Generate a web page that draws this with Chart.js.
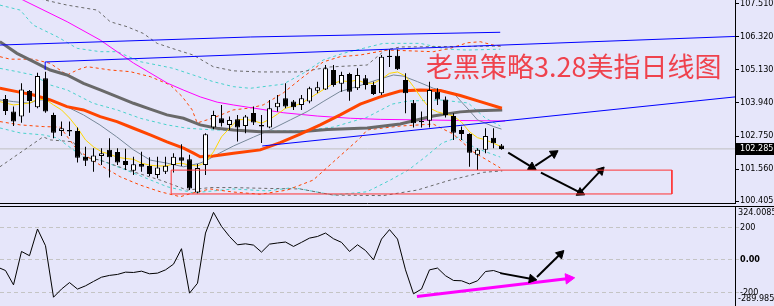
<!DOCTYPE html>
<html>
<head>
<meta charset="utf-8">
<script src="https://cdn.jsdelivr.net/npm/chart.js@4.4.1/dist/chart.umd.min.js"></script>
<style>
  html, body { margin: 0; padding: 0; background: #E6E6FA; overflow: hidden; }
  #wrap { position: relative; width: 774px; height: 306px; overflow: hidden; }
  #priceChart { position: absolute; left: 0; top: 0; }
  #cciChart { position: absolute; left: 0; top: 204px; }
</style>
</head>
<body>
<div id="wrap">
  <canvas id="priceChart" width="774" height="204"></canvas>
  <canvas id="cciChart" width="774" height="103"></canvas>
</div>
<script>
// ---- data ----
const open = [104.08,103.63,103.45,104.37,103.79,104.83,103.51,102.93,102.97,102.93,
  102.00,101.82,102.03,102.25,102.17,101.85,101.50,101.74,101.67,101.34,
  101.46,101.70,101.98,101.91,100.71,101.70,103.06,103.39,103.15,103.35,
  103.11,103.58,103.15,103.06,103.79,104.11,103.99,103.87,103.99,104.38,
  104.43,105.13,104.63,104.99,104.47,104.83,104.59,104.29,105.60,105.64,
  104.77,103.95,103.25,103.30,104.35,104.07,103.47,102.97,102.82,102.07,
  102.25,102.69,102.41];
const high = [104.23,103.81,104.65,104.41,105.03,105.07,103.59,103.27,103.27,103.06,
  102.36,102.31,102.31,102.67,102.31,102.29,102.00,102.18,101.98,102.00,
  102.00,102.13,102.45,102.07,101.74,102.85,103.66,103.87,103.45,103.51,
  103.51,103.81,103.51,104.05,104.23,104.65,104.05,104.23,104.53,104.71,
  105.31,105.31,105.07,105.03,105.19,104.95,104.71,105.67,105.87,105.87,
  105.01,104.05,103.63,104.71,104.47,104.17,103.57,103.09,102.85,102.31,
  103.03,103.03,102.46];
const low = [103.51,103.11,103.23,103.59,103.75,103.59,102.67,102.75,102.75,101.79,
  101.67,101.46,101.70,101.25,101.70,101.52,101.34,101.46,101.31,101.23,
  101.38,101.43,101.67,100.80,100.68,101.34,102.99,103.09,102.97,102.55,
  102.85,103.15,102.50,103.03,103.63,103.75,103.69,103.69,103.93,104.29,
  104.41,104.53,104.35,104.02,104.41,104.43,104.23,104.23,105.24,105.13,
  103.57,103.06,103.06,103.06,103.87,103.42,102.61,102.61,101.64,101.52,
  102.13,102.31,102.25];
const close = [103.65,103.27,104.43,104.01,104.91,103.63,102.87,103.03,102.91,101.97,
  101.86,102.05,102.13,101.98,101.79,101.70,101.73,101.64,101.38,101.61,
  101.68,102.00,101.86,100.86,101.60,102.81,103.51,103.21,103.33,103.06,
  103.45,103.24,103.09,103.75,103.95,103.81,103.79,104.11,104.47,104.51,
  105.19,104.59,104.95,104.35,104.95,104.59,104.26,105.61,105.64,105.16,
  104.29,103.21,103.29,104.41,104.07,103.51,102.87,102.82,102.15,102.25,
  102.75,102.49,102.285];

const priceTicks = [107.510, 106.320, 105.130, 103.940, 102.750, 101.560, 100.405];
const priceMin = 100.298, priceMax = 107.654;
const xMin = -0.6875, xMax = 91.1875;

// moving averages: [bar index, price]
const maYellow = [[-0.7,103.99],[0,103.94],[1,103.87],[2,103.90],[3,103.94],[4,104.07],[5,104.07],[6,103.87],[7,103.69],[8,103.40],
  [9,103.04],[10,102.61],[11,102.36],[12,102.18],[13,102.10],[14,101.98],[15,101.94],[16,101.91],[17,101.77],[18,101.70],
  [19,101.67],[20,101.67],[21,101.74],[22,101.77],[23,101.70],[24,101.67],[25,101.79],[26,102.18],[27,102.72],[28,103.03],
  [29,103.33],[30,103.35],[31,103.30],[32,103.21],[33,103.35],[34,103.54],[35,103.75],[36,103.83],[37,103.93],[38,104.11],
  [39,104.29],[40,104.47],[41,104.65],[42,104.74],[43,104.71],[44,104.77],[45,104.65],[46,104.65],[47,104.80],[48,105.01],
  [49,105.06],[50,104.91],[51,104.53],[52,104.11],[53,103.76],[54,103.62],[55,103.54],[56,103.47],[57,103.25],[58,102.90],
  [59,102.69],[60,102.61],[61,102.49],[62,102.36]];
const maSlate = [[-0.7,104.05],[1,103.99],[3,103.93],[4,104.05],[5.6,104.05],[7.7,103.80],[9.75,103.51],[11.8,103.15],
  [13.9,102.72],[16,102.25],[18.1,101.88],[20.2,101.77],[22.25,101.64],[24.3,101.77],[25.2,101.88],[26.8,102.14],
  [28.5,102.39],[31,102.71],[33.1,102.97],[35.6,103.33],[37.7,103.63],[39.7,103.99],[41.8,104.35],[43.9,104.53],
  [46.4,104.77],[48.5,104.95],[49.7,104.91],[51.5,104.71],[53.5,104.47],[56,104.29],[57.7,103.76],[59,103.33],
  [61,103.09],[62,103.00]];
const maOrange = [[-0.7,104.47],[1.43,104.35],[3.5,104.23],[5.59,104.05],[7.68,103.81],[9.75,103.69],[11.84,103.45],
  [13.93,103.27],[16,103.03],[18.09,102.79],[20.18,102.54],[22.25,102.31],[23.5,102.13],[24.34,102.00],[26,102.03],
  [28.5,102.13],[31.84,102.25],[34.34,102.51],[36.84,102.82],[39.34,103.15],[41.84,103.51],[44.34,103.90],
  [46.84,104.16],[49.34,104.37],[51.84,104.41],[54.34,104.39],[56.84,104.21],[59.34,103.99],[62.05,103.75]];
const maGray = [[-0.7,106.15],[1.43,105.73],[3.5,105.43],[5.59,105.13],[7.68,104.95],[9.75,104.65],[11.84,104.41],
  [13.93,104.17],[16,103.93],[18.09,103.72],[20.18,103.51],[22.25,103.39],[24.34,103.15],[26.43,103.03],[28.5,102.97],
  [31.84,102.90],[36.84,102.90],[40.21,102.98],[45.21,103.04],[49.34,103.18],[53.46,103.47],[56.84,103.62],
  [58.96,103.66],[62.09,103.69]];
const maMagenta = [[1.59,107.75],[2.21,107.65],[7.71,106.87],[11.84,106.21],[16,105.38],[20.21,104.66],[22.21,104.41],
  [24.34,104.16],[26.46,103.97],[28.46,103.87],[31.84,103.72],[34.71,103.59],[38.96,103.47],[43.09,103.39],
  [46.84,103.35],[51.84,103.33],[56.84,103.31],[62.46,103.29]];

// envelope / band lines (dashed)
const grayUp = [[4.34,107.69],[7.71,107.47],[11.46,107.29],[13.09,106.87],[15.21,106.69],[17.21,106.45],[18.96,106.09],
  [21.46,105.85],[23.46,105.67],[25.96,105.25],[28.46,105.10],[31.84,105.06],[36.84,105.06],[40.59,105.24],
  [45.21,105.31],[47.46,105.85],[49.34,105.96],[60.96,105.99],[62.1,105.99]];
const grayLow = [[-0.7,101.64],[4.71,102.72],[5.59,102.61],[8.46,102.54],[9.71,102.00],[11.84,101.88],[15.96,101.46],
  [19.34,101.16],[22.71,100.80],[25.59,100.89],[28.46,100.89],[32.71,100.86],[36.84,100.84],[40.96,100.62],
  [47.21,100.60],[51.46,100.80],[55.59,101.16],[59.71,101.44],[62.1,101.49]];
const orangeUp = [[-0.7,105.61],[0.59,105.52],[3.46,105.52],[5.59,105.37],[7.71,104.95],[8.96,105.13],[10.21,105.25],
  [13.09,105.13],[15.59,105.07],[18.09,104.89],[20.59,104.59],[22.09,104.17],[23.34,103.69],[23.96,103.22],
  [25.96,103.40],[28.46,103.69],[30.59,103.76],[32.21,103.87],[34.71,104.30],[37.21,104.88],[39.71,105.42],
  [41.84,105.61],[44.34,105.67],[47.71,105.85],[53.46,105.79],[55.59,105.91],[57.71,106.11],[59.34,106.15],
  [60.96,106.03],[62.1,105.99]];
const orangeLow = [[-0.7,103.27],[1.84,103.15],[4.71,103.09],[6.84,103.07],[8.96,102.25],[11.84,101.70],[14.34,101.28],
  [16.84,100.98],[19.34,100.74],[21.84,100.56],[23.46,100.70],[25.59,100.84],[28.46,100.73],[31.84,100.65],
  [35.21,100.80],[38.46,101.16],[40.96,101.81],[44.34,102.68],[45.21,102.97],[49.34,103.11],[53.46,103.18],
  [55.96,102.82],[58.46,102.18],[61.84,101.60]];
const cyanUpOuter = [[-0.7,107.47],[1.84,107.29],[3.46,106.75],[6.46,106.33],[8.96,105.91],[11.84,105.79],[13.96,105.79],
  [16.84,105.43],[18.96,105.31],[20.96,105.19],[23.46,104.95],[25.96,104.71],[28.46,104.53],[30.59,104.47],
  [34.71,104.62],[37.21,105.01],[39.71,105.49],[42.21,105.73],[44.71,105.91],[47.21,106.09],[51.84,106.09],
  [55.21,105.88],[57.71,105.85],[61.84,105.88]];
const cyanUpInner = [[-0.7,105.19],[1.46,105.07],[3.46,104.95],[5.59,104.59],[7.71,104.41],[10.96,103.93],[13.96,103.69],
  [16.84,103.39],[20.21,103.15],[22.71,103.03],[25.96,102.97],[31.84,102.93],[36.84,102.93],[40.96,103.07],
  [45.21,103.43],[48.34,103.90],[50.34,104.01],[54.34,104.05],[57.84,103.94],[59.96,103.40],[61.84,103.11]];
const cyanLow = [[-0.7,103.04],[1.84,102.86],[4.71,102.79],[6.46,102.68],[9.71,101.99],[11.84,101.88],[15.96,101.42],
  [20.21,100.92],[23.46,100.70],[28.46,100.84],[32.71,100.77],[35.96,100.89],[40.96,100.62],[45.21,100.74],
  [48.09,101.16],[50.34,101.52],[52.46,101.99],[54.59,102.50],[56.59,102.71],[58.71,102.32],[61.84,101.99]];

// drawn objects
const channelTop = [[-0.69,106.03],[30.59,106.32],[61.84,106.49]];
const trendUpper = [[4.96,105.13],[4.96,105.42],[91.2,106.34]];
const trendLower = [[32.09,102.39],[91.2,104.16]];
const supportBox = [[20.71,101.52],[83.3,101.52],[83.3,100.66],[20.71,100.66],[20.71,101.52]];
const priceArrows = [
  [[62.84,102.15],[65.80,101.63]],
  [[66.21,101.67],[68.55,102.12]],
  [[66.93,101.43],[71.85,100.71]],
  [[72.05,100.78],[74.40,101.50]]
];
const title = '老黑策略3.28美指日线图';

// CCI panel
const cci = [-45,-66,-154,51,25,189,86,-230,-180,-140,-180,-160,-133,-107,-96,-90,-76,-78,-70,-86,-82,-62,
  -27,68,-205,-144,164,291,205,143,92,98,90,47,96,103,109,82,107,133,143,164,129,107,51,92,57,0,127,185,127,
  -62,-209,-180,-62,-51,-98,-127,-129,-148,-129,-72,-66,-82];
const cciTicks = [200, 0, -200];
const cciMax = 324.0085, cciMin = -289.985;
const cciArrows = [
  [[61.84,-82],[65.8,-118]],
  [[66.43,-106],[69.35,35]]
];
const divergenceArrow = [[51.43,-226],[70.4,-115]];

// ---- helpers ----
const tickFont = { family: "'DejaVu Sans Condensed', 'Liberation Sans'", size: 9 };
const idx = close.map((_, i) => i);
const pts = a => a.map(([x, y]) => ({ x, y }));

function line(data, color, width, dash, order) {
  return {
    type: 'line', data: pts(data), borderColor: color, borderWidth: width,
    borderDash: dash || [], pointRadius: 0, tension: 0, fill: false, order: order
  };
}

function headAngle(chart, seg) {
  const sx = chart.scales.x, sy = chart.scales.y;
  const dx = sx.getPixelForValue(seg[1][0]) - sx.getPixelForValue(seg[0][0]);
  const dy = sy.getPixelForValue(seg[1][1]) - sy.getPixelForValue(seg[0][1]);
  return Math.atan2(dx, -dy) * 180 / Math.PI;
}

function arrow(seg, color, width, head) {
  return {
    type: 'line', data: pts(seg), borderColor: color, borderWidth: width,
    pointRadius: [0, head], pointStyle: 'triangle', pointBorderWidth: 1,
    pointBackgroundColor: color, pointBorderColor: color,
    pointRotation: ctx => headAngle(ctx.chart, seg),
    tension: 0, fill: false, order: -1
  };
}

// keep the right axis 39px wide and stop it from shrinking the plot for label overhang
function fixAxis(scale) {
  scale.width = 39;
  scale.paddingTop = 0;
  scale.paddingBottom = 0;
}

const xScale = { type: 'linear', min: xMin, max: xMax, display: false, offset: false };

// ---- price panel ----
const pricePlugin = {
  id: 'priceExtras',
  afterDraw(chart) {
    const { ctx, chartArea } = chart;
    ctx.save();
    ctx.strokeStyle = '#000';
    ctx.lineWidth = 1;
    ctx.beginPath();
    ctx.moveTo(0, chartArea.bottom - 0.5);
    ctx.lineTo(chartArea.right, chartArea.bottom - 0.5);
    ctx.stroke();

    ctx.font = "27px 'Noto Sans CJK SC'";
    ctx.fillStyle = 'rgba(240, 52, 62, 0.92)';
    ctx.textBaseline = 'middle';
    ctx.fillText(title, 426, 67);

    const last = close[close.length - 1];
    const y = Math.round(chart.scales.y.getPixelForValue(last));
    ctx.fillStyle = '#000';
    ctx.fillRect(chartArea.right + 1, y - 6, 40, 12);
    ctx.fillStyle = '#fff';
    ctx.font = `${tickFont.size}px ${tickFont.family}`;
    ctx.fillText(last.toFixed(3), chartArea.right + 5, y);
    ctx.restore();
  }
};

new Chart(document.getElementById('priceChart'), {
  type: 'bar',
  data: {
    datasets: [
      {
        data: idx.map(i => ({ x: i, y: [open[i], close[i]] })),
        backgroundColor: idx.map(i => close[i] - open[i] > 0.05 ? '#FFFFFF' : '#000000'),
        borderColor: '#000', borderWidth: 1, borderSkipped: false,
        barThickness: 5, grouped: false, inflateAmount: 0, order: 0
      },
      {
        data: idx.map(i => ({ x: i, y: [low[i], high[i]] })),
        backgroundColor: '#000', borderWidth: 0,
        barThickness: 1, grouped: false, inflateAmount: 0, order: 1
      },
      line(maYellow, '#FFD700', 1, null, 5),
      line(maOrange, '#FF4500', 3, null, 6),
      line(maGray, '#696969', 3, null, 7),
      line(maSlate, '#778899', 1, null, 8),
      line(maMagenta, '#FF00FF', 1, null, 9),
      line(channelTop, '#0000FF', 1, null, 4),
      line(trendUpper, '#0000FF', 1, null, 4),
      line(trendLower, '#0000FF', 1, null, 4),
      line(orangeUp, '#FF4500', 1, [3, 3], 10),
      line(orangeLow, '#FF4500', 1, [3, 3], 10),
      line(grayUp, '#696969', 1, [3, 3], 10),
      line(grayLow, '#696969', 1, [3, 3], 10),
      line(cyanUpOuter, '#48D1CC', 1, [3, 3], 10),
      line(cyanUpInner, '#48D1CC', 1, [3, 3], 10),
      line(cyanLow, '#48D1CC', 1, [3, 3], 10),
      line([[xMin - 1, close[close.length - 1]], [xMax + 1, close[close.length - 1]]], '#C0C0C0', 1, null, 12),
      line(supportBox, '#FF3333', 1, null, -1),
      ...priceArrows.map(s => arrow(s, '#000', 2, 5))
    ]
  },
  options: {
    responsive: false, animation: false, events: [],
    layout: { padding: 0, autoPadding: false },
    plugins: { legend: { display: false }, tooltip: { enabled: false } },
    scales: {
      x: xScale,
      y: {
        position: 'right', min: priceMin, max: priceMax,
        afterFit: fixAxis,
        afterBuildTicks(scale) { scale.ticks = priceTicks.map(v => ({ value: v })); },
        ticks: { autoSkip: false, padding: 1, color: '#000', font: tickFont, callback: v => v.toFixed(3) },
        grid: { drawOnChartArea: false, drawTicks: true, tickLength: 4, color: '#000' },
        border: { display: true, color: '#000' }
      }
    }
  },
  plugins: [pricePlugin]
});

// ---- CCI panel ----
const cciPlugin = {
  id: 'cciExtras',
  afterDraw(chart) {
    const { ctx, chartArea } = chart;
    ctx.save();
    ctx.strokeStyle = '#000';
    ctx.lineWidth = 1;
    ctx.beginPath();
    ctx.moveTo(0, chartArea.top - 0.5);
    ctx.lineTo(chart.width, chartArea.top - 0.5);
    ctx.stroke();
    ctx.fillStyle = '#000';
    ctx.font = `${tickFont.size}px ${tickFont.family}`;
    ctx.textBaseline = 'top';
    ctx.fillText(String(cciMax), chartArea.right + 3, chartArea.top + 1);
    ctx.textBaseline = 'bottom';
    ctx.fillText(String(cciMin), chartArea.right + 3, chartArea.bottom - 4);
    ctx.restore();
  }
};

new Chart(document.getElementById('cciChart'), {
  type: 'line',
  data: {
    datasets: [
      line(cci.map((v, k) => [k - 1, v]), '#000', 1, null, 2),
      ...cciArrows.map(s => arrow(s, '#000', 2, 5)),
      arrow(divergenceArrow, '#FF00FF', 3, 6)
    ]
  },
  options: {
    responsive: false, animation: false, events: [],
    layout: { padding: { top: 3 }, autoPadding: false },
    plugins: { legend: { display: false }, tooltip: { enabled: false } },
    scales: {
      x: xScale,
      y: {
        position: 'right', min: cciMin, max: cciMax,
        afterFit: fixAxis,
        afterBuildTicks(scale) { scale.ticks = cciTicks.map(v => ({ value: v })); },
        ticks: {
          autoSkip: false, padding: 1, color: '#000',
          font: c => ({ ...tickFont, weight: c.tick && c.tick.value === 0 ? 'bold' : 'normal' }),
          callback: v => v === 0 ? '0.00' : String(v)
        },
        grid: { drawOnChartArea: true, drawTicks: true, tickLength: 4, color: '#C4C4C4' },
        border: { display: true, color: '#000', dash: [4, 3] }
      }
    }
  },
  plugins: [cciPlugin]
});
</script>
</body>
</html>
